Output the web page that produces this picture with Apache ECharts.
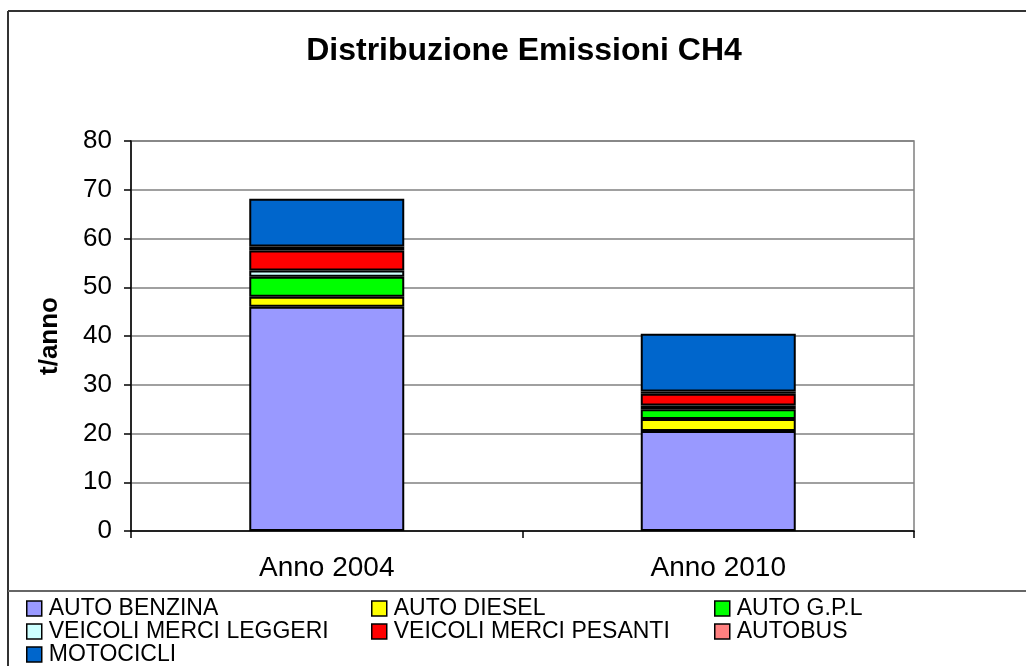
<!DOCTYPE html>
<html>
<head>
<meta charset="utf-8">
<script src="https://cdn.jsdelivr.net/npm/echarts@6/dist/echarts.min.js"></script>
<style>
  html, body { margin: 0; padding: 0; background: #fff; }
  #chart { width: 1026px; height: 666px; }
</style>
</head>
<body>
<div id="chart"></div>
<script>
// Emissioni di CH4 per categoria di veicolo (t/anno)
const categories = ['Anno 2004', 'Anno 2010'];
const yTicks = [0, 10, 20, 30, 40, 50, 60, 70, 80];

const autoBenzina = [46.0, 20.5];
const autoDiesel = [2.05, 2.45];
const autoGpl = [4.1, 2.05];
const veicoliMerciLeggeri = [1.3, 0.75];
const veicoliMerciPesanti = [4.1, 2.4];
const autobus = [0.8, 0.45];
const motocicli = [9.8, 11.85];

const seriesDefs = [
  { name: 'AUTO BENZINA', data: autoBenzina, color: '#9999FF' },
  { name: 'AUTO DIESEL', data: autoDiesel, color: '#FFFF00' },
  { name: 'AUTO G.P.L', data: autoGpl, color: '#00FF00' },
  { name: 'VEICOLI MERCI LEGGERI', data: veicoliMerciLeggeri, color: '#CCFFFF' },
  { name: 'VEICOLI MERCI PESANTI', data: veicoliMerciPesanti, color: '#FF0000' },
  { name: 'AUTOBUS', data: autobus, color: '#FF8080' },
  { name: 'MOTOCICLI', data: motocicli, color: '#0066CC' }
];

const FONT = "'Liberation Sans', Arial, sans-serif";

const legendBase = {
  orient: 'vertical',
  top: 597,
  height: 80,
  padding: 0,
  itemWidth: 15,
  itemHeight: 15,
  itemGap: 0,
  icon: 'rect',
  selectedMode: false,
  itemStyle: { borderColor: '#000', borderWidth: 1.5 },
  textStyle: { fontFamily: FONT, fontSize: 23, color: '#000', padding: [0, 0, 0, 2] }
};

const chart = echarts.init(document.getElementById('chart'), null, { renderer: 'canvas' });

chart.setOption({
  backgroundColor: '#fff',
  animation: false,
  title: {
    text: 'Distribuzione Emissioni CH4',
    left: 524,
    top: 35,
    padding: 0,
    textAlign: 'center',
    textStyle: { fontFamily: FONT, fontSize: 32, fontWeight: 'bold', color: '#000' }
  },
  legend: [
    Object.assign({}, legendBase, { left: 26, data: ['AUTO BENZINA', 'VEICOLI MERCI LEGGERI', 'MOTOCICLI'] }),
    Object.assign({}, legendBase, { left: 371, data: ['AUTO DIESEL', 'VEICOLI MERCI PESANTI'] }),
    Object.assign({}, legendBase, { left: 714, data: ['AUTO G.P.L', 'AUTOBUS'] })
  ],
  grid: {
    left: 131, right: 112, top: 141, bottom: 135,
    show: true, borderColor: '#808080', borderWidth: 1.5, backgroundColor: 'transparent'
  },
  xAxis: {
    type: 'category',
    data: categories,
    axisLine: { lineStyle: { color: '#000', width: 1.5 } },
    axisTick: { show: true, alignWithLabel: false, length: 7, lineStyle: { color: '#000', width: 1.5 } },
    axisLabel: { fontFamily: FONT, fontSize: 28, color: '#000', margin: 23 }
  },
  yAxis: {
    type: 'value',
    min: yTicks[0],
    max: yTicks[yTicks.length - 1],
    interval: yTicks[1] - yTicks[0],
    name: 't/anno',
    nameLocation: 'middle',
    nameGap: 68,
    nameTextStyle: { fontFamily: FONT, fontSize: 26, fontWeight: 'bold', color: '#000' },
    axisLine: { show: true, lineStyle: { color: '#000', width: 1.5 } },
    axisTick: { show: true, length: 7, lineStyle: { color: '#000', width: 1.5 } },
    axisLabel: { fontFamily: FONT, fontSize: 26, color: '#000', margin: 19 },
    splitLine: { lineStyle: { color: '#808080', width: 1.5 } }
  },
  series: seriesDefs.map(s => ({
    name: s.name,
    type: 'bar',
    stack: 'tot',
    data: s.data,
    barWidth: 155,
    itemStyle: { color: s.color, borderColor: '#000', borderWidth: 2 }
  })),
  graphic: [
    { type: 'line', shape: { x1: 8, y1: 11, x2: 1026, y2: 11 }, style: { stroke: '#333', lineWidth: 2 } },
    { type: 'line', shape: { x1: 8, y1: 11, x2: 8, y2: 666 }, style: { stroke: '#333', lineWidth: 2 } },
    { type: 'line', shape: { x1: 8, y1: 591, x2: 1026, y2: 591 }, style: { stroke: '#666', lineWidth: 2 } }
  ]
});
</script>
</body>
</html>
